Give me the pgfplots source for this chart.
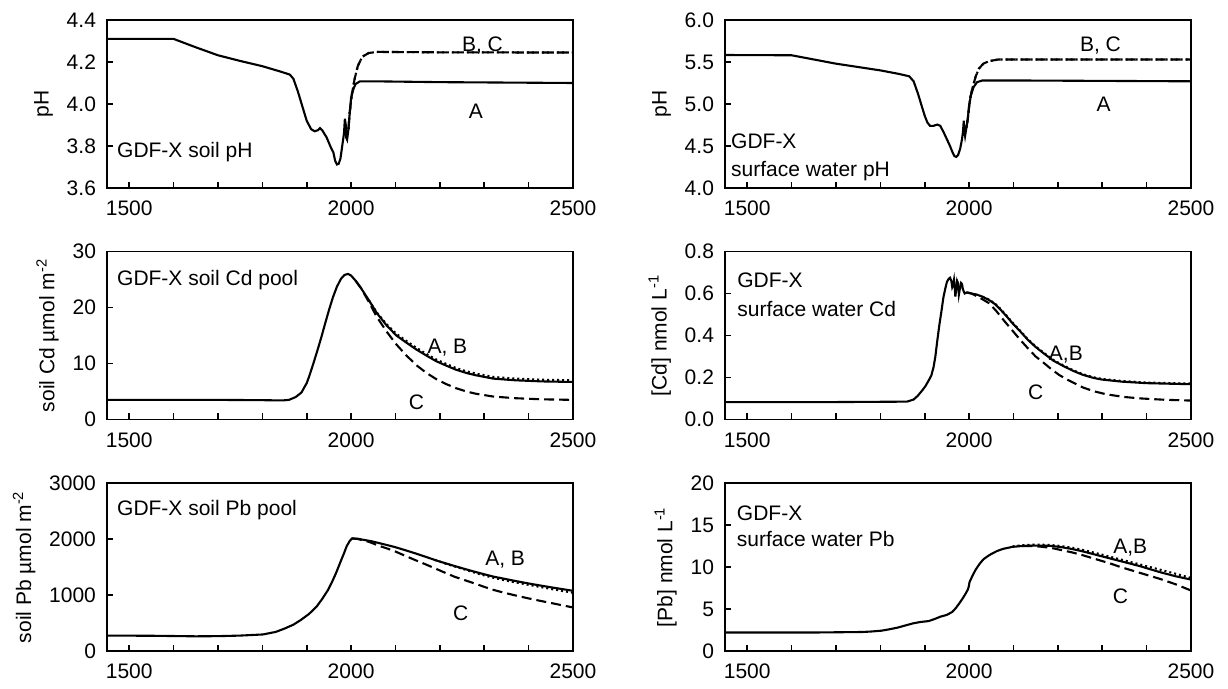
\documentclass[border=0pt]{standalone}
\usepackage{pgfplots}
\pgfplotsset{compat=1.18}
\usepackage{fontspec}
\setmainfont{Liberation Sans}
\begin{document}
\begin{tikzpicture}[font=\fontsize{10.5}{12.5}\selectfont]
\useasboundingbox (0,0) rectangle (614pt,344.5pt);
\tikzset{
 lab/.style={anchor=west, inner sep=0pt, font=\fontsize{10.5}{12.5}\selectfont},
 labc/.style={anchor=center, inner sep=0pt, font=\fontsize{10.5}{12.5}\selectfont},
}
\pgfplotsset{
 panel/.style={
  scale only axis, width=233pt, height=84pt, anchor=south west,
  xmin=1450, xmax=2500,
  xtick={1500,1600,...,2500}, xticklabels={1500,,,,,2000,,,,,2500},
  tick align=inside, major tick length=3pt,
  xtick pos=bottom, ytick pos=left,
  axis line style={line width=0.8pt},
  every tick/.style={black, line width=0.8pt},
  tick label style={font=\fontsize{10.5}{12.5}\selectfont},
  label style={font=\fontsize{10.5}{12.5}\selectfont},
  yticklabel style={xshift=-2pt},
  xticklabel style={yshift=-3pt},
  /pgf/number format/assume math mode=true,
  /pgf/number format/1000 sep={},
  every axis plot/.append style={line width=1.05pt, black},
 },
 onedec/.style={yticklabel style={/pgf/number format/.cd,fixed,fixed zerofill,precision=1}},
 A/.style={solid},
 B/.style={dash pattern=on 1pt off 1.5pt},
 C/.style={dash pattern=on 5pt off 2.5pt},
}
% ---------- soil pH
\begin{axis}[panel, onedec, at={(53.5pt,250.5pt)}, ymin=3.6, ymax=4.4, ytick={3.6,3.8,...,4.41}, ylabel={pH}]
\addplot[A] coordinates {(1450,4.31)(1600,4.31)(1650,4.27)(1700,4.232)(1750,4.205)(1800,4.18)(1840,4.155)(1862,4.14)(1870,4.12)(1880,4.06)(1890,3.99)(1900,3.92)(1910,3.88)(1918,3.87)(1925,3.875)(1930,3.885)(1935,3.875)(1945,3.84)(1955,3.79)(1960,3.77)(1964,3.73)(1968,3.712)(1972,3.715)(1976,3.74)(1980,3.80)(1984,3.86)(1986,3.93)(1988,3.90)(1989,3.84)(1991,3.83)(1994,3.88)(1997,3.96)(2000,4.03)(2005,4.07)(2010,4.095)(2020,4.108)(2050,4.108)(2200,4.104)(2500,4.1)};
\addplot[B] coordinates {(1994,3.88)(1997,3.96)(2002,4.05)(2008,4.12)(2015,4.18)(2025,4.225)(2040,4.243)(2060,4.248)(2200,4.246)(2500,4.245)};
\addplot[C] coordinates {(1994,3.88)(1997,3.96)(2002,4.05)(2008,4.12)(2015,4.18)(2025,4.225)(2040,4.243)(2060,4.248)(2200,4.246)(2500,4.245)};
\node[lab] at (axis cs:1472,3.77) {GDF-X soil pH};
\node[labc] at (axis cs:2296,4.28) {B, C};
\node[labc] at (axis cs:2281,3.965) {A};
\end{axis}
% ---------- surface water pH
\begin{axis}[panel, onedec, at={(362.5pt,250.5pt)}, ymin=4, ymax=6, ytick={4,4.5,...,6.01}, ylabel={pH}]
\addplot[A] coordinates {(1450,5.583)(1600,5.58)(1650,5.53)(1700,5.48)(1750,5.44)(1800,5.40)(1840,5.36)(1865,5.33)(1875,5.27)(1885,5.12)(1893,4.98)(1900,4.86)(1906,4.78)(1912,4.74)(1920,4.74)(1928,4.755)(1935,4.74)(1942,4.67)(1950,4.58)(1957,4.50)(1963,4.42)(1967,4.38)(1971,4.37)(1975,4.39)(1980,4.47)(1984,4.58)(1986,4.66)(1988,4.80)(1989,4.70)(1991,4.62)(1994,4.72)(1997,4.82)(2000,4.98)(2004,5.10)(2010,5.20)(2018,5.26)(2030,5.28)(2100,5.28)(2500,5.27)};
\addplot[B] coordinates {(1994,4.72)(1997,4.82)(2002,5.06)(2008,5.2)(2015,5.33)(2022,5.42)(2032,5.48)(2045,5.51)(2066,5.53)(2500,5.53)};
\addplot[C] coordinates {(1994,4.72)(1997,4.82)(2002,5.06)(2008,5.2)(2015,5.33)(2022,5.42)(2032,5.48)(2045,5.51)(2066,5.53)(2500,5.53)};
\node[lab] at (axis cs:1463,4.56) {GDF-X};
\node[lab] at (axis cs:1463,4.20) {surface water pH};
\node[labc] at (axis cs:2296,5.7) {B, C};
\node[labc] at (axis cs:2303,5.0) {A};
\end{axis}
% ---------- soil Cd
\begin{axis}[panel, at={(53.5pt,134.75pt)}, ymin=0, ymax=30, ytick={0,10,20,30}, ylabel={soil Cd µmol m\textsuperscript{-2}}]
\addplot[A] coordinates {(1450,3.5)(1700,3.5)(1800,3.45)(1845,3.4)(1860,3.5)(1875,4.0)(1888,4.8)(1900,6.5)(1906,7.8)(1915,10.0)(1924,12.3)(1933,14.7)(1941,17.0)(1950,19.5)(1959,21.8)(1968,23.7)(1977,25.1)(1985,25.8)(1993,26.0)(2000,25.7)(2010,24.8)(2022,23.5)(2040,21.3)(2058,19.0)(2080,16.8)(2102,15.0)(2125,13.7)(2147,12.5)(2170,11.4)(2192,10.4)(2215,9.6)(2236,8.9)(2260,8.3)(2281,7.9)(2320,7.3)(2370,7.0)(2430,6.8)(2500,6.7)};
\addplot[B] coordinates {(2040,21.3)(2058,19.1)(2080,17.0)(2102,15.3)(2125,14.0)(2147,12.8)(2170,11.7)(2192,10.7)(2215,9.9)(2236,9.2)(2260,8.6)(2281,8.2)(2320,7.6)(2370,7.3)(2430,7.1)(2500,7.0)};
\addplot[C] coordinates {(2010,24.8)(2022,23.5)(2040,21.0)(2058,18.3)(2080,15.7)(2102,13.4)(2125,11.4)(2147,9.7)(2170,8.3)(2192,7.2)(2215,6.3)(2236,5.6)(2260,5.0)(2281,4.6)(2320,4.1)(2370,3.8)(2430,3.6)(2500,3.5)};
\node[lab] at (axis cs:1472,24.9) {GDF-X soil Cd pool};
\node[labc] at (axis cs:2217,12.9) {A, B};
\node[labc] at (axis cs:2147,3.0) {C};
\end{axis}
% ---------- surface water Cd
\begin{axis}[panel, onedec, at={(362.5pt,134.75pt)}, ymin=0, ymax=0.8, ytick={0,0.2,...,0.81}, ylabel={[Cd] nmol L\textsuperscript{-1}}]
\addplot[A] coordinates {(1450,0.083)(1700,0.083)(1860,0.085)(1875,0.095)(1884,0.112)(1895,0.14)(1902,0.16)(1910,0.19)(1915,0.21)(1920,0.25)(1924,0.30)(1928,0.37)(1933,0.45)(1938,0.52)(1942,0.58)(1946,0.62)(1950,0.655)(1954,0.67)(1957,0.675)(1960,0.66)(1962,0.63)(1964,0.64)(1966,0.665)(1968,0.62)(1969,0.585)(1971,0.62)(1973,0.66)(1975,0.65)(1977,0.595)(1979,0.62)(1982,0.65)(1984,0.645)(1986,0.62)(1990,0.60)(1995,0.605)(2005,0.60)(2017,0.595)(2030,0.585)(2044,0.57)(2058,0.55)(2070,0.525)(2085,0.49)(2097,0.46)(2115,0.42)(2132,0.38)(2150,0.345)(2168,0.315)(2190,0.28)(2212,0.255)(2234,0.232)(2256,0.213)(2280,0.198)(2300,0.19)(2345,0.18)(2400,0.173)(2500,0.168)};
\addplot[B] coordinates {(2030,0.585)(2044,0.572)(2058,0.553)(2070,0.528)(2085,0.493)(2097,0.463)(2115,0.423)(2132,0.383)(2150,0.348)(2168,0.318)(2190,0.283)(2212,0.258)(2234,0.235)(2256,0.216)(2280,0.201)(2300,0.193)(2345,0.183)(2400,0.176)(2500,0.171)};
\addplot[C] coordinates {(1995,0.605)(2005,0.60)(2020,0.585)(2044,0.555)(2060,0.52)(2079,0.47)(2097,0.425)(2115,0.38)(2132,0.34)(2150,0.30)(2168,0.27)(2185,0.24)(2203,0.212)(2221,0.19)(2240,0.17)(2256,0.153)(2280,0.135)(2309,0.12)(2350,0.107)(2389,0.1)(2440,0.094)(2500,0.09)};
\node[lab] at (axis cs:1477,0.664) {GDF-X};
\node[lab] at (axis cs:1477,0.528) {surface water Cd};
\node[labc] at (axis cs:2218,0.31) {A,B};
\node[labc] at (axis cs:2150,0.128) {C};
\end{axis}
% ---------- soil Pb
\begin{axis}[panel, at={(53.5pt,19pt)}, ymin=0, ymax=3000, ytick={0,1000,2000,3000}, ylabel={soil Pb µmol m\textsuperscript{-2}}]
\addplot[A] coordinates {(1450,275)(1550,272)(1650,262)(1700,265)(1750,275)(1801,295)(1830,340)(1850,400)(1870,470)(1886,550)(1905,660)(1922,790)(1935,930)(1948,1090)(1958,1250)(1966,1390)(1975,1570)(1984,1745)(1990,1870)(1997,1966)(2002,2010)(2015,2005)(2028,1985)(2046,1960)(2064,1925)(2082,1890)(2100,1853)(2122,1800)(2144,1745)(2167,1685)(2189,1625)(2211,1570)(2233,1518)(2256,1465)(2278,1416)(2300,1370)(2322,1326)(2345,1290)(2367,1255)(2389,1222)(2411,1190)(2456,1130)(2500,1075)};
\addplot[B] coordinates {(2189,1625)(2211,1565)(2233,1510)(2256,1455)(2278,1400)(2300,1350)(2322,1305)(2345,1265)(2367,1230)(2389,1197)(2411,1165)(2456,1100)(2500,1040)};
\addplot[C] coordinates {(2002,2010)(2015,2000)(2040,1950)(2064,1876)(2082,1828)(2100,1775)(2122,1700)(2144,1625)(2167,1550)(2189,1476)(2211,1400)(2233,1326)(2256,1265)(2278,1207)(2300,1145)(2322,1088)(2345,1040)(2367,998)(2389,958)(2411,920)(2456,848)(2500,777)};
\node[lab] at (axis cs:1472,2522) {GDF-X soil Pb pool};
\node[labc] at (axis cs:2347,1625) {A, B};
\node[labc] at (axis cs:2247,670) {C};
\end{axis}
% ---------- surface water Pb
\begin{axis}[panel, at={(362.5pt,19pt)}, ymin=0, ymax=20, ytick={0,5,...,20}, ylabel={[Pb] nmol L\textsuperscript{-1}}]
\addplot[A] coordinates {(1450,2.2)(1650,2.2)(1759,2.26)(1780,2.32)(1803,2.42)(1820,2.58)(1838,2.77)(1855,3.02)(1873,3.28)(1890,3.45)(1909,3.56)(1922,3.8)(1935,4.08)(1950,4.3)(1962,4.65)(1970,5.1)(1979,5.75)(1986,6.3)(1993,6.9)(1997,7.3)(1999,7.6)(2001,8.2)(2008,9.0)(2015,9.7)(2024,10.4)(2032,10.9)(2041,11.25)(2050,11.55)(2063,11.9)(2076,12.15)(2098,12.4)(2120,12.5)(2143,12.55)(2165,12.55)(2187,12.5)(2209,12.35)(2231,12.15)(2253,11.9)(2275,11.6)(2297,11.3)(2319,11.0)(2341,10.7)(2363,10.4)(2385,10.1)(2407,9.75)(2429,9.4)(2465,8.9)(2500,8.5)};
\addplot[B] coordinates {(2098,12.45)(2120,12.6)(2143,12.65)(2165,12.65)(2187,12.6)(2209,12.48)(2231,12.3)(2253,12.07)(2275,11.8)(2297,11.5)(2319,11.2)(2341,10.9)(2363,10.6)(2385,10.3)(2407,10.0)(2429,9.7)(2465,9.2)(2500,8.7)};
\addplot[C] coordinates {(2120,12.5)(2143,12.5)(2165,12.4)(2187,12.25)(2209,12.0)(2231,11.75)(2253,11.45)(2275,11.1)(2297,10.75)(2319,10.4)(2341,10.0)(2363,9.65)(2385,9.3)(2407,8.95)(2429,8.6)(2465,7.95)(2500,7.2)};
\node[lab] at (axis cs:1476,16.4) {GDF-X};
\node[lab] at (axis cs:1476,13.3) {surface water Pb};
\node[labc] at (axis cs:2363,12.3) {A,B};
\node[labc] at (axis cs:2341,6.5) {C};
\end{axis}
\end{tikzpicture}
\end{document}
